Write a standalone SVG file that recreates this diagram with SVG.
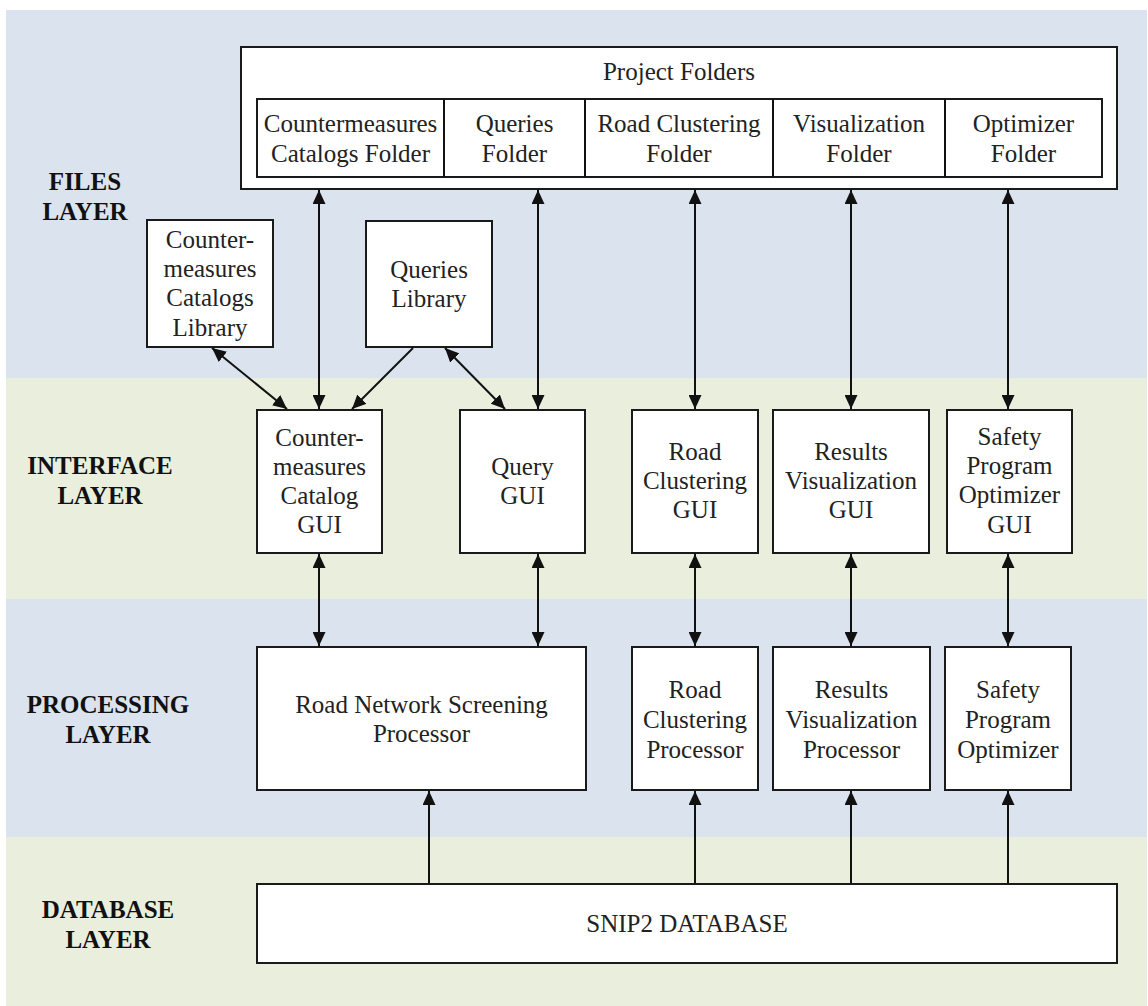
<svg xmlns="http://www.w3.org/2000/svg" width="1148" height="1006" viewBox="0 0 1148 1006">
<defs>
<style>
.blue{fill:#dae3ee}
.green{fill:#e9eedd}
.box{fill:#ffffff;stroke:#1a1a1a;stroke-width:2}
.t{font-family:'Liberation Serif','DejaVu Serif',serif;font-size:25px;fill:#222;text-anchor:middle}
.lbl{font-family:'Liberation Serif','DejaVu Serif',serif;font-size:25px;font-weight:bold;fill:#111;text-anchor:middle}
.c{stroke:#111;stroke-width:2;fill:none}
</style>
<marker id="ah" viewBox="0 0 14 13" refX="14" refY="6.5" markerWidth="14" markerHeight="13" markerUnits="userSpaceOnUse" orient="auto-start-reverse">
<path d="M0,0 L14,6.5 L0,13 z" fill="#111"/>
</marker>
</defs>
<rect x="0" y="0" width="1148" height="1006" fill="#ffffff"/>
<g id="bands">
<rect class="blue" x="6" y="10" width="1141" height="368"/>
<rect class="green" x="6" y="378" width="1141" height="221"/>
<rect class="blue" x="6" y="599" width="1141" height="238"/>
<rect class="green" x="6" y="837" width="1141" height="169"/>
</g>
<g id="layer-labels" font-family="Liberation Serif, DejaVu Serif, serif">
<text class="lbl" x="85" y="190">FILES</text>
<text class="lbl" x="85" y="220">LAYER</text>
<text class="lbl" x="100" y="474">INTERFACE</text>
<text class="lbl" x="100" y="504">LAYER</text>
<text class="lbl" x="108" y="713">PROCESSING</text>
<text class="lbl" x="108" y="743">LAYER</text>
<text class="lbl" x="108" y="918">DATABASE</text>
<text class="lbl" x="108" y="948">LAYER</text>
</g>
<g id="project-folders">
<rect class="box" x="241" y="47" width="876" height="142"/>
<text class="t" x="679" y="80">Project Folders</text>
<rect class="box" x="257" y="99" width="845" height="78"/>
<line class="c" x1="444" y1="99" x2="444" y2="177"/>
<line class="c" x1="585" y1="99" x2="585" y2="177"/>
<line class="c" x1="773" y1="99" x2="773" y2="177"/>
<line class="c" x1="945" y1="99" x2="945" y2="177"/>
</g>
<g id="cm-folder"><text class="t" x="350.5" y="132">Countermeasures</text><text class="t" x="350.5" y="162">Catalogs Folder</text></g>
<g id="q-folder"><text class="t" x="514.5" y="132">Queries</text><text class="t" x="514.5" y="162">Folder</text></g>
<g id="rc-folder"><text class="t" x="679" y="132">Road Clustering</text><text class="t" x="679" y="162">Folder</text></g>
<g id="vis-folder"><text class="t" x="859" y="132">Visualization</text><text class="t" x="859" y="162">Folder</text></g>
<g id="opt-folder"><text class="t" x="1023.5" y="132">Optimizer</text><text class="t" x="1023.5" y="162">Folder</text></g>
<g id="cm-library">
<rect class="box" x="147" y="220" width="126" height="127"/>
<text class="t" x="210" y="248">Counter-</text>
<text class="t" x="210" y="277">measures</text>
<text class="t" x="210" y="306">Catalogs</text>
<text class="t" x="210" y="336">Library</text>
</g>
<g id="q-library">
<rect class="box" x="366" y="221" width="126" height="126"/>
<text class="t" x="429" y="278">Queries</text>
<text class="t" x="429" y="307">Library</text>
</g>
<g id="cm-gui">
<rect class="box" x="257" y="410" width="125" height="143"/>
<text class="t" x="319.5" y="446">Counter-</text>
<text class="t" x="319.5" y="475">measures</text>
<text class="t" x="319.5" y="504">Catalog</text>
<text class="t" x="319.5" y="533">GUI</text>
</g>
<g id="query-gui">
<rect class="box" x="460" y="410" width="125" height="143"/>
<text class="t" x="522.5" y="475">Query</text>
<text class="t" x="522.5" y="504">GUI</text>
</g>
<g id="rc-gui">
<rect class="box" x="632" y="410" width="126" height="143"/>
<text class="t" x="695" y="460">Road</text>
<text class="t" x="695" y="489">Clustering</text>
<text class="t" x="695" y="518">GUI</text>
</g>
<g id="rv-gui">
<rect class="box" x="773" y="410" width="156" height="143"/>
<text class="t" x="851" y="460">Results</text>
<text class="t" x="851" y="489">Visualization</text>
<text class="t" x="851" y="518">GUI</text>
</g>
<g id="spo-gui">
<rect class="box" x="947" y="410" width="125" height="143"/>
<text class="t" x="1009.5" y="445">Safety</text>
<text class="t" x="1009.5" y="474">Program</text>
<text class="t" x="1009.5" y="503">Optimizer</text>
<text class="t" x="1009.5" y="533">GUI</text>
</g>
<g id="rns-processor">
<rect class="box" x="257" y="647" width="329" height="143"/>
<text class="t" x="421.5" y="713">Road Network Screening</text>
<text class="t" x="421.5" y="742">Processor</text>
</g>
<g id="rc-processor">
<rect class="box" x="632" y="647" width="126" height="143"/>
<text class="t" x="695" y="698">Road</text>
<text class="t" x="695" y="728">Clustering</text>
<text class="t" x="695" y="758">Processor</text>
</g>
<g id="rv-processor">
<rect class="box" x="773" y="647" width="157" height="143"/>
<text class="t" x="851.5" y="698">Results</text>
<text class="t" x="851.5" y="728">Visualization</text>
<text class="t" x="851.5" y="758">Processor</text>
</g>
<g id="spo-processor">
<rect class="box" x="945" y="647" width="126" height="143"/>
<text class="t" x="1008" y="698">Safety</text>
<text class="t" x="1008" y="728">Program</text>
<text class="t" x="1008" y="758">Optimizer</text>
</g>
<g id="database">
<rect class="box" x="257" y="884" width="860" height="79"/>
<text class="t" x="687" y="932">SNIP2 DATABASE</text>
</g>
<g id="connectors">
<line class="c" x1="319" y1="190" x2="319" y2="409" marker-start="url(#ah)" marker-end="url(#ah)"/>
<line class="c" x1="538" y1="190" x2="538" y2="409" marker-start="url(#ah)" marker-end="url(#ah)"/>
<line class="c" x1="695" y1="190" x2="695" y2="409" marker-start="url(#ah)" marker-end="url(#ah)"/>
<line class="c" x1="851" y1="190" x2="851" y2="409" marker-start="url(#ah)" marker-end="url(#ah)"/>
<line class="c" x1="1008" y1="190" x2="1008" y2="409" marker-start="url(#ah)" marker-end="url(#ah)"/>
<line class="c" x1="212" y1="348" x2="287" y2="409" marker-start="url(#ah)" marker-end="url(#ah)"/>
<line class="c" x1="413" y1="348" x2="352" y2="409" marker-end="url(#ah)"/>
<line class="c" x1="445" y1="348" x2="505" y2="409" marker-start="url(#ah)" marker-end="url(#ah)"/>
<line class="c" x1="319" y1="554" x2="319" y2="646" marker-start="url(#ah)" marker-end="url(#ah)"/>
<line class="c" x1="538" y1="554" x2="538" y2="646" marker-start="url(#ah)" marker-end="url(#ah)"/>
<line class="c" x1="695" y1="554" x2="695" y2="646" marker-start="url(#ah)" marker-end="url(#ah)"/>
<line class="c" x1="851" y1="554" x2="851" y2="646" marker-start="url(#ah)" marker-end="url(#ah)"/>
<line class="c" x1="1008" y1="554" x2="1008" y2="646" marker-start="url(#ah)" marker-end="url(#ah)"/>
<line class="c" x1="429" y1="883" x2="429" y2="791" marker-end="url(#ah)"/>
<line class="c" x1="695" y1="883" x2="695" y2="791" marker-end="url(#ah)"/>
<line class="c" x1="851" y1="883" x2="851" y2="791" marker-end="url(#ah)"/>
<line class="c" x1="1008" y1="883" x2="1008" y2="791" marker-end="url(#ah)"/>
</g>
</svg>
